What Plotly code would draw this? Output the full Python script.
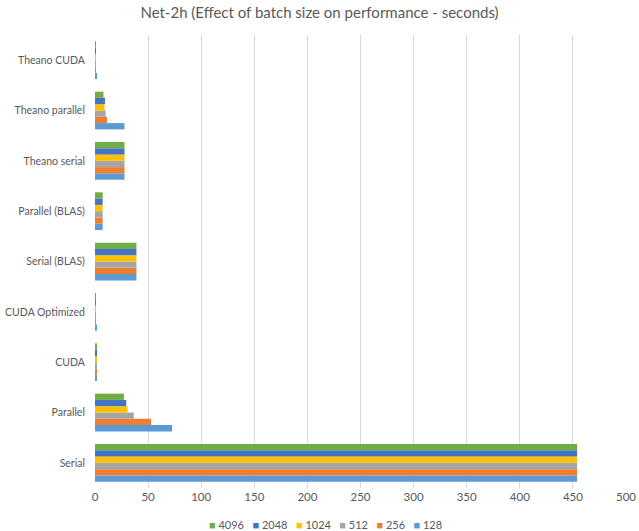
import plotly.graph_objects as go

categories = ["Serial", "Parallel", "CUDA", "CUDA Optimized", "Serial (BLAS)",
              "Parallel (BLAS)", "Theano serial", "Theano parallel", "Theano CUDA"]
series_names = ["128", "256", "512", "1024", "2048", "4096"]
values_128 = [454, 72.5, 1.4, 1.5, 39, 7.2, 27.8, 27.8, 1.5]
values_256 = [454, 52.8, 1.3, 0.8, 39, 7.2, 27.8, 11.3, 0.8]
values_512 = [454, 36.5, 1.3, 0.8, 39, 7.2, 27.8, 10.0, 0.5]
values_1024 = [454, 30.6, 1.3, 0.8, 39, 7.2, 27.8, 9.0, 0.5]
values_2048 = [454, 29.4, 1.3, 0.8, 39, 7.2, 27.8, 9.4, 0.5]
values_4096 = [454, 27.2, 1.3, 0.8, 39, 7.2, 27.8, 8.0, 0.5]
colors = ["#5B9BD5", "#ED7D31", "#A5A5A5", "#FFC000", "#4472C4", "#70AD47"]
all_values = [values_128, values_256, values_512, values_1024, values_2048, values_4096]

fig = go.Figure()
for name, vals, col in zip(series_names, all_values, colors):
    fig.add_trace(go.Bar(y=categories, x=vals, name=name, orientation="h",
                         marker=dict(color=col, line=dict(width=0)), showlegend=False))

font = "Lato, Open Sans, sans-serif"

# compact Excel-style legend built as text
legend_parts = []
for name, col in reversed(list(zip(series_names, colors))):
    legend_parts.append(f"<span style='color:{col}'>■</span> {name}")
legend_text = "   ".join(legend_parts)

fig.update_layout(
    width=639, height=531,
    barmode="group", bargap=0.25, bargroupgap=0,
    paper_bgcolor="white", plot_bgcolor="white",
    margin=dict(l=95, r=13, t=35, b=43),
    title=dict(text="Net-2h (Effect of batch size on performance - seconds)",
               x=0.5, xanchor="center", y=0.985, yanchor="top",
               font=dict(family=font, size=15, color="#595959")),
    font=dict(family=font, size=11, color="#595959"),
    annotations=[dict(text=legend_text, xref="paper", yref="paper", x=0.435, y=-0.08,
                      xanchor="center", yanchor="middle", showarrow=False,
                      font=dict(family=font, size=11, color="#595959"))],
)
fig.update_xaxes(range=[0, 500], dtick=50, showgrid=True, gridcolor="#D9D9D9",
                 gridwidth=1, zeroline=False, showline=False, automargin=False,
                 tickfont=dict(size=11.5, color="#595959"))
fig.update_yaxes(categoryorder="array", categoryarray=categories, showgrid=False,
                 showline=False, ticks="outside", ticklen=7, tickcolor="rgba(0,0,0,0)",
                 automargin=False, tickfont=dict(size=10.5, color="#595959"))
fig.write_html("out.html")
